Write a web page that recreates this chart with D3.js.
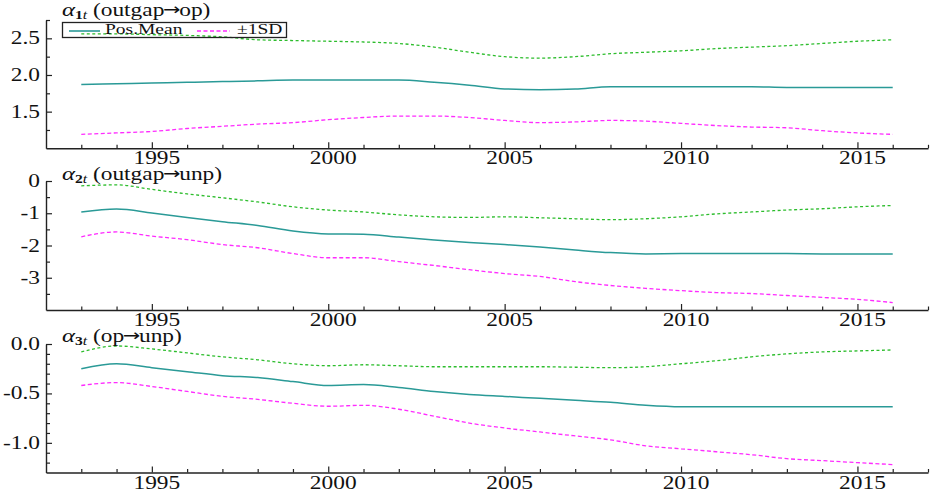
<!DOCTYPE html>
<html><head><meta charset="utf-8">
<script src="https://cdn.jsdelivr.net/npm/d3@7"></script>
<style>
html,body{margin:0;padding:0;background:#fff;}
svg{display:block;}
text{font-family:"Liberation Serif","DejaVu Serif",serif;fill:#111;}
</style></head>
<body>
<svg id="chart" width="931" height="496"></svg>
<script>
// ---------- data ----------
const years = [1993,1994,1995,1996,1997,1998,1999,2000,2001,2002,2003,2004,2005,2006,2007,2008,2009,2010,2011,2012,2013,2014,2015,2016];

const p1Mean  = [1.87,1.88,1.89,1.90,1.91,1.92,1.93,1.93,1.93,1.93,1.90,1.86,1.81,1.80,1.81,1.84,1.84,1.84,1.84,1.84,1.83,1.83,1.83,1.83];
const p1Upper = [2.56,2.56,2.55,2.54,2.52,2.48,2.47,2.46,2.45,2.43,2.38,2.31,2.25,2.23,2.25,2.29,2.31,2.33,2.36,2.38,2.40,2.43,2.46,2.48];
const p1Lower = [1.19,1.21,1.23,1.27,1.30,1.33,1.35,1.39,1.42,1.44,1.44,1.42,1.38,1.35,1.36,1.38,1.37,1.34,1.31,1.29,1.28,1.24,1.21,1.19];

const p2Mean  = [-0.96,-0.87,-0.99,-1.13,-1.26,-1.38,-1.55,-1.64,-1.65,-1.74,-1.83,-1.91,-1.97,-2.05,-2.14,-2.22,-2.26,-2.25,-2.25,-2.25,-2.25,-2.26,-2.26,-2.26];
const p2Upper = [-0.15,-0.12,-0.26,-0.40,-0.52,-0.65,-0.80,-0.90,-0.96,-1.05,-1.11,-1.13,-1.11,-1.14,-1.17,-1.20,-1.17,-1.11,-1.02,-0.96,-0.90,-0.86,-0.80,-0.76];
const p2Lower = [-1.73,-1.58,-1.71,-1.82,-1.97,-2.07,-2.25,-2.38,-2.38,-2.50,-2.62,-2.75,-2.87,-2.96,-3.12,-3.24,-3.33,-3.40,-3.46,-3.49,-3.55,-3.61,-3.67,-3.77];

const p3Mean  = [-0.25,-0.20,-0.24,-0.28,-0.32,-0.34,-0.38,-0.42,-0.41,-0.44,-0.48,-0.51,-0.53,-0.55,-0.57,-0.59,-0.62,-0.635,-0.635,-0.635,-0.635,-0.635,-0.635,-0.635];
const p3Upper = [-0.08,-0.02,-0.05,-0.09,-0.13,-0.16,-0.20,-0.22,-0.21,-0.22,-0.23,-0.23,-0.23,-0.23,-0.235,-0.24,-0.23,-0.20,-0.17,-0.13,-0.10,-0.08,-0.07,-0.06];
const p3Lower = [-0.42,-0.39,-0.43,-0.48,-0.53,-0.56,-0.60,-0.63,-0.62,-0.66,-0.73,-0.80,-0.85,-0.89,-0.93,-0.97,-1.03,-1.06,-1.09,-1.12,-1.16,-1.18,-1.20,-1.22];

const xMajorTicks = [1995,2000,2005,2010,2015];
const xMinorTicks = [1993,1994,1996,1997,1998,1999,2001,2002,2003,2004,2006,2007,2008,2009,2011,2012,2013,2014,2016,2017];

const p1YTicks = [1.5,2.0,2.5];
const p1YLabels = ["1.5","2.0","2.5"];
const p1YMinor = [1.25,1.75,2.25,2.75];
const p2YTicks = [0,-1,-2,-3];
const p2YLabels = ["0","-1","-2","-3"];
const p2YMinor = [-0.5,-1.5,-2.5,-3.5];
const p3YTicks = [0,-0.5,-1.0];
const p3YLabels = ["0.0","-0.5","-1.0"];
const p3YMinor = [-0.1,-0.2,-0.3,-0.4,-0.6,-0.7,-0.8,-0.9,-1.1,-1.2];

const titleIdx = ["1","2","3"];
const titleFrom = [" (outgap"," (outgap"," (op"];
const titleTo = ["op)","unp)","unp)"];
const legendLabels = ["Pos.Mean","\u00b11SD"];

// ---------- layout ----------
const panels = [
  {mean:p1Mean, up:p1Upper, lo:p1Lower, dom:[1.0,2.75], top:20, bottom:148.3, ticks:p1YTicks, labels:p1YLabels, minor:p1YMinor, titleY:16},
  {mean:p2Mean, up:p2Upper, lo:p2Lower, dom:[-4,0], top:181, bottom:310, ticks:p2YTicks, labels:p2YLabels, minor:p2YMinor, titleY:180},
  {mean:p3Mean, up:p3Upper, lo:p3Lower, dom:[-1.3,0], top:344, bottom:472.5, ticks:p3YTicks, labels:p3YLabels, minor:p3YMinor, titleY:342}
];
const SX = 1.3;
const colMean = "#2a9a97", colUp = "#2dbd2d", colLo = "#ff2bff";

const svg = d3.select("#chart");
const x = d3.scaleLinear().domain([1992,2017]).range([46,928]);

function stext(g, px, py, str, size, anchor){
  return g.append("text")
    .attr("transform", `translate(${px},${py}) scale(${SX},1)`)
    .attr("text-anchor", anchor || "start")
    .style("font-size", size + "px")
    .text(str);
}

panels.forEach((p, i) => {
  const y = d3.scaleLinear().domain(p.dom).range([p.bottom, p.top]);
  const g = svg.append("g");

  // lines
  const line = d3.line().x((d, j) => x(years[j])).y(d => y(d)).curve(d3.curveMonotoneX);
  g.append("path").datum(p.up).attr("d", line).attr("fill","none")
    .attr("stroke", colUp).attr("stroke-width",1.3).attr("stroke-dasharray","3,2.5");
  g.append("path").datum(p.lo).attr("d", line).attr("fill","none")
    .attr("stroke", colLo).attr("stroke-width",1.3).attr("stroke-dasharray","4,2.5");
  g.append("path").datum(p.mean).attr("d", line).attr("fill","none")
    .attr("stroke", colMean).attr("stroke-width",1.5);

  // y axis
  g.append("g").attr("transform", `translate(${x.range()[0]},0)`)
    .call(d3.axisLeft(y).tickValues(p.ticks).tickSize(-6).tickSizeOuter(0).tickFormat(""));
  g.append("g").attr("transform", `translate(${x.range()[0]},0)`)
    .call(d3.axisLeft(y).tickValues(p.minor).tickSize(-4).tickSizeOuter(0).tickFormat(""))
    .select(".domain").remove();
  p.ticks.forEach((t, k) => {
    stext(g, 40, y(t) + 6, p.labels[k], 18, "end");
  });

  // x axis
  g.append("g").attr("transform", `translate(0,${p.bottom})`)
    .call(d3.axisBottom(x).tickValues(xMajorTicks).tickSize(-6).tickSizeOuter(0).tickFormat(""));
  g.append("g").attr("transform", `translate(0,${p.bottom})`)
    .call(d3.axisBottom(x).tickValues(xMinorTicks).tickSize(-3.5).tickSizeOuter(0).tickFormat(""))
    .select(".domain").remove();
  xMajorTicks.forEach(t => {
    stext(g, x(t) + 5, p.bottom + 16, String(t), 18, "middle");
  });

  g.selectAll(".domain").attr("stroke","#222").attr("stroke-width",1.4);
  g.selectAll(".tick line").attr("stroke","#222").attr("stroke-width",1.2);

  // title
  const tt = g.append("text")
    .attr("transform", `translate(62,${p.titleY}) scale(${SX},1)`)
    .style("font-size","18px");
  tt.append("tspan").text("\u03b1").style("font-style","italic").style("font-size","19px");
  tt.append("tspan").text(titleIdx[i]).attr("dy",3).style("font-size","12px").style("font-weight","bold");
  tt.append("tspan").text("t").style("font-size","12px").style("font-style","italic");
  tt.append("tspan").text(titleFrom[i]).attr("dy",-3);
  tt.append("tspan").text("\u2192").style("font-family","'DejaVu Sans'").style("font-size","16px")
    .attr("dx",-1).attr("dy",-1);
  tt.append("tspan").text(titleTo[i]).attr("dx",-1).attr("dy",1);
});

// legend
const lg = svg.append("g");
lg.append("rect").attr("x",62.5).attr("y",22.5).attr("width",224).attr("height",15)
  .attr("fill","none").attr("stroke","#222").attr("stroke-width",1.3);
lg.append("line").attr("x1",69).attr("x2",100).attr("y1",31).attr("y2",31)
  .attr("stroke",colMean).attr("stroke-width",1.6);
stext(lg, 105, 34, legendLabels[0], 15, "start");
lg.append("line").attr("x1",197).attr("x2",230).attr("y1",31).attr("y2",31)
  .attr("stroke",colLo).attr("stroke-width",1.3).attr("stroke-dasharray","4,2.5");
stext(lg, 237, 34, legendLabels[1], 15, "start");
</script>
</body></html>
